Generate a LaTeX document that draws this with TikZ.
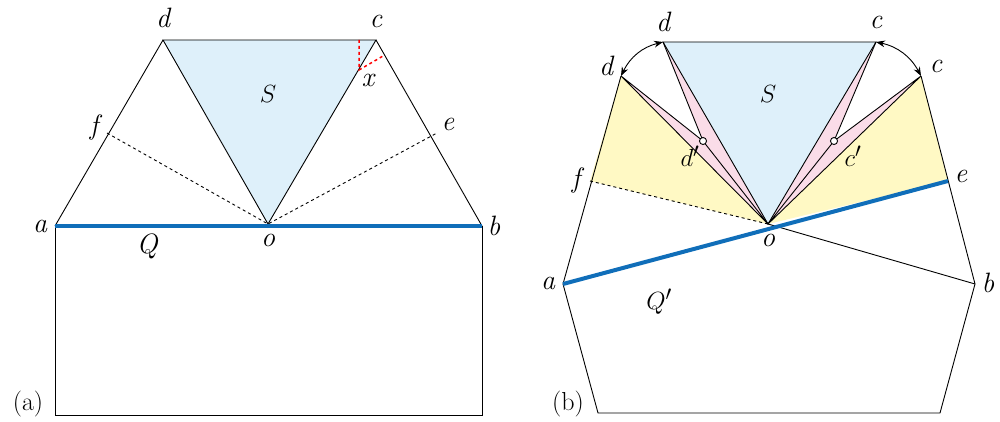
\documentclass[tikz,border=0pt]{standalone}
\usetikzlibrary{arrows.meta}
\definecolor{sblue}{RGB}{222,240,250}
\definecolor{qblue}{RGB}{16,110,185}
\definecolor{pyel}{RGB}{255,249,196}
\definecolor{ppink}{RGB}{250,220,232}
\tikzset{lab/.style={font=\fontsize{28}{30}\selectfont\itshape},
  qline/.style={qblue,line width=4pt},
  pt/.style={draw,fill=white,circle,inner sep=2.5pt}}
\begin{document}
\begin{tikzpicture}[x=1pt,y=-1pt,line width=0.9pt,>={Stealth[length=9pt]}]
\useasboundingbox (0,0) rectangle (1000,422);
\begin{scope}
% panel (a)
\coordinate (a) at (55,226); \coordinate (b) at (482,226);
\coordinate (d) at (163,40); \coordinate (c) at (376,40);
\coordinate (f) at (107,133); \coordinate (e) at (437,133);
\coordinate (o) at (268,224); \coordinate (x) at (359,70);
\fill[sblue] (d)--(c)--(o)--cycle;
\draw (d)--(c)--(o)--cycle;
\draw (a)--(d) (c)--(b);
\draw[dashed] (f)--(o)--(e);
\draw (a)--(55,415)--(482,415)--(b);
\draw[red,dashed,line width=1.5pt] (359,40)--(x)--(383,56);
\draw[qline] (a)--(b);
\node[lab,above] at (163,32) {d};
\node[lab,above] at (376,32) {c};
\node[lab] at (94,128) {f};
\node[lab] at (448,124) {e};
\node[lab] at (40,226) {a};
\node[lab] at (494,226) {b};
\node[lab] at (268,240) {o};
\node[lab] at (147,246) {Q};
\node[lab] at (368,80) {x};
\node[lab] at (268,94) {$S$};
\node[font=\fontsize{26}{28}\selectfont] at (28,404) {(a)};
\end{scope}
\begin{scope}
% panel (b)
\coordinate (dt) at (663,42); \coordinate (ct) at (876,42);
\coordinate (d) at (621,76); \coordinate (c) at (921,76);
\coordinate (f) at (590,181); \coordinate (e) at (948,181);
\coordinate (o) at (768,224); \coordinate (a) at (563,284);
\coordinate (b) at (975,284);
\coordinate (dp) at (703,141); \coordinate (cp) at (834,141);
\fill[pyel] (f)--(d)--(o)--cycle (e)--(c)--(o)--cycle;
\fill[ppink] (o)--(d)--(dp)--(dt)--cycle (o)--(c)--(cp)--(ct)--cycle;
\fill[sblue] (dt)--(ct)--(o)--cycle;
\draw (dt)--(ct)--(o)--cycle;
\draw (o)--(d)--(dp)--(dt) (o)--(dp);
\draw (o)--(c)--(cp)--(ct) (o)--(cp);
\draw (a)--(d) (c)--(b);
\draw (a)--(598,413)--(940,413)--(b);
\draw[dashed] (f)--(o);
\draw (o)--(b);
\draw[<->] (d) to[bend left=25] (dt);
\draw[<->] (ct) to[bend left=25] (c);
\draw[qline] (a)--(e);
\node[pt] at (dp) {}; \node[pt] at (cp) {};
\node[lab] at (663,22) {d};
\node[lab] at (876,22) {c};
\node[lab] at (606,66) {d};
\node[lab] at (936,66) {c};
\node[lab] at (576,180) {f};
\node[lab] at (961,176) {e};
\node[lab] at (548,283) {a};
\node[lab] at (988,283) {b};
\node[lab] at (768,240) {o};
\node[lab] at (690,156) {$d'$};
\node[lab] at (853,156) {$c'$};
\node[lab] at (659,302) {$Q'$};
\node[lab] at (768,94) {$S$};
\node[font=\fontsize{26}{28}\selectfont] at (568,404) {(b)};
\end{scope}
\end{tikzpicture}
\end{document}
